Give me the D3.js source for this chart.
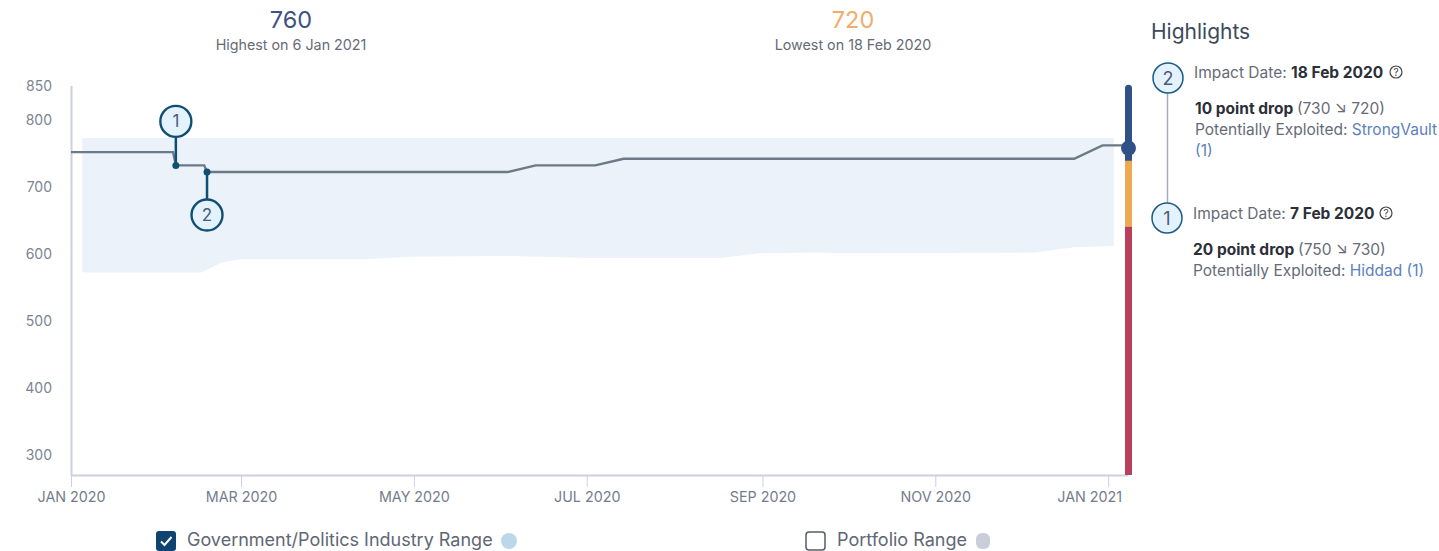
<!DOCTYPE html>
<html>
<head>
<meta charset="utf-8">
<style>
html, body { margin: 0; padding: 0; background: #fff; overflow: hidden; }
svg { display: block; font-family: Inter, "Noto Sans", sans-serif; }
.axis text { font-family: Inter, "Noto Sans", sans-serif; }
.axis--y text { font-size: 14px; fill: #7c8492; }
.axis--x text { font-size: 14.3px; fill: #747c8b; }
.axis line, .axis path { stroke: #cdd0de; }
.grey { fill: #666b77; }
.link { fill: #5a82bd; }
.strong { fill: #2b2f38; font-weight: 700; }
</style>
</head>
<body>
<svg id="chart" width="1439" height="551"></svg>
<script src="https://cdn.jsdelivr.net/npm/d3@7"></script>
<script>

/// Score line
var lineDates = ["2020-01-01","2020-02-06","2020-02-07","2020-02-17","2020-02-18","2020-06-03","2020-06-13","2020-07-04","2020-07-14","2020-12-20","2020-12-30","2021-01-08"];
var lineValues = [750,750,730,730,720,720,730,730,740,740,760,760];

/// Industry range band
var bandDates = ["2020-01-05","2020-02-16","2020-02-23","2020-03-01","2020-04-14","2020-05-02","2020-06-04","2020-06-21","2020-07-03","2020-08-10","2020-08-17","2020-08-31","2020-09-21","2020-09-27","2020-12-06","2020-12-20","2021-01-03"];
var bandLow = [569,569,584,589,589,593,594,592,591,591,591,598,599,598,599,607,609];
var bandHigh = [771,771,771,771,771,771,771,771,771,771,771,771,771,771,771,771,771];

/// Rating bar on the right edge, from top to bottom
var ratingEdges = [851,737,638,265];
var ratingColors = ["#2f5187","#eeaa50","#b8405a"];

var yTicks = [850,800,700,600,500,400,300];
var xTicks = ["2020-01-01","2020-03-01","2020-05-01","2020-07-01","2020-09-01","2020-11-01","2021-01-01"];

var currentDate = "2021-01-08";
var currentValue = 756;

/// Drop markers on the chart
var dropIds = [1,2];
var dropDates = ["2020-02-07","2020-02-18"];
var dropValues = [730,720];
var dropOffsets = [-44,43];

var summaryValues = ["760","720"];
var summaryLabels = ["Highest on 6 Jan 2021","Lowest on 18 Feb 2020"];
var summaryColors = ["#3f5283","#f0ad6c"];

var parse = d3.utcParse("%Y-%m-%d");
var svg = d3.select("#chart");

var x = d3.scaleUtc()
    .domain([parse("2020-01-01"), parse(currentDate)])
    .range([71, 1128]);

var y = d3.scaleLinear()
    .domain([850, 265])
    .range([85.5, 475]);

/// the tick labels sit on a slightly longer scale than the line does
var yLabel = d3.scaleLinear()
    .domain([850, 300])
    .range([86, 455]);

/// Band
var band = bandDates.map(function(d, i) {
    return {date: parse(d), low: bandLow[i], high: bandHigh[i]};
});
var area = d3.area()
    .x(function(d) { return x(d.date); })
    .y0(function(d) { return y(d.low); })
    .y1(function(d) { return y(d.high); });
svg.append("path").datum(band).attr("d", area).attr("fill", "#ebf2f9");

/// Axes
var yAxis = d3.axisLeft(y).tickValues(yTicks).tickSize(0).tickPadding(19);
var gy = svg.append("g")
    .attr("class", "axis axis--y")
    .attr("transform", "translate(71,0)")
    .call(yAxis);
gy.select(".domain").attr("stroke-width", 2);
gy.selectAll(".tick").attr("transform", function(d) { return "translate(0," + yLabel(d) + ")"; });
gy.selectAll("text").attr("dy", "0.36em");

var xAxis = d3.axisBottom(x)
    .tickValues(xTicks.map(parse))
    .tickSize(12)
    .tickPadding(5)
    .tickSizeOuter(0)
    .tickFormat(function(d) { return d3.utcFormat("%b %Y")(d).toUpperCase(); });
var gx = svg.append("g")
    .attr("class", "axis axis--x")
    .attr("transform", "translate(0,475)")
    .call(xAxis);
gx.select(".domain").attr("stroke-width", 2);
/// last label is pushed left so it stays clear of the bar
gx.selectAll(".tick:last-of-type text").attr("dx", -19);

/// Score line
var line = d3.line()
    .x(function(d) { return x(parse(d)); })
    .y(function(d, i) { return y(lineValues[i]); });
svg.append("path")
    .attr("d", line(lineDates))
    .attr("fill", "none")
    .attr("stroke", "#6d7987")
    .attr("stroke-width", 2.4);

/// Rating bar
var barX = x(parse(currentDate)) - 3;
ratingColors.forEach(function(c, i) {
    var top = y(ratingEdges[i]), bottom = y(ratingEdges[i + 1]);
    svg.append("rect")
        .attr("x", barX).attr("width", 7)
        .attr("y", top)
        .attr("height", bottom - top + (i == 0 ? 5 : 0))
        .attr("rx", i == 0 ? 3.5 : 0)
        .attr("fill", c);
});
svg.append("circle")
    .attr("cx", x(parse(currentDate)) + 0.5)
    .attr("cy", y(currentValue))
    .attr("r", 7.5)
    .attr("fill", "#2f5187");

/// Drop markers
dropIds.forEach(function(id, i) {
    var cx = x(parse(dropDates[i])), cy = y(dropValues[i]);
    var g = svg.append("g");
    g.append("line")
        .attr("x1", cx).attr("x2", cx)
        .attr("y1", cy).attr("y2", cy + dropOffsets[i])
        .attr("stroke", "#0f4f76").attr("stroke-width", 2.5);
    g.append("circle")
        .attr("cx", cx).attr("cy", cy).attr("r", 3.5)
        .attr("fill", "#0f4f76");
    g.append("circle")
        .attr("cx", cx).attr("cy", cy + dropOffsets[i]).attr("r", 15.5)
        .attr("fill", "#e3f2fd").attr("stroke", "#0f4f76").attr("stroke-width", 2.4);
    g.append("text")
        .attr("x", cx).attr("y", cy + dropOffsets[i] + 6)
        .attr("text-anchor", "middle")
        .attr("font-size", 17).attr("fill", "#4a5a78")
        .text(id);
});

/// Summary at the top
[291, 853].forEach(function(cx, i) {
    svg.append("text")
        .attr("x", cx).attr("y", 28)
        .attr("text-anchor", "middle")
        .attr("font-size", 23.5).attr("fill", summaryColors[i])
        .text(summaryValues[i]);
    svg.append("text")
        .attr("x", cx).attr("y", 50)
        .attr("text-anchor", "middle")
        .attr("font-size", 14.3).attr("fill", "#666b77")
        .text(summaryLabels[i]);
});

/// Highlights panel
svg.append("text")
    .attr("x", 1151).attr("y", 39)
    .attr("font-size", 21).attr("fill", "#3c4a5a")
    .text("Highlights");

svg.append("line")
    .attr("x1", 1167.5).attr("x2", 1167.5)
    .attr("y1", 92).attr("y2", 204)
    .attr("stroke", "#a6acb6").attr("stroke-width", 1.5);

function badge(cx, cy, id) {
    svg.append("circle")
        .attr("cx", cx).attr("cy", cy).attr("r", 15)
        .attr("fill", "#e3f2fd").attr("stroke", "#1c5a85").attr("stroke-width", 1.5);
    svg.append("text")
        .attr("x", cx).attr("y", cy + 7)
        .attr("text-anchor", "middle")
        .attr("font-size", 18).attr("fill", "#4a5a78")
        .text(id);
}

function rich(px, py, parts) {
    var t = svg.append("text").attr("x", px).attr("y", py).attr("font-size", 15.5);
    parts.forEach(function(p) {
        t.append("tspan").attr("class", p[1]).text(p[0]);
    });
    return t;
}

function help(cx, cy) {
    svg.append("circle")
        .attr("cx", cx).attr("cy", cy).attr("r", 6)
        .attr("fill", "none").attr("stroke", "#444").attr("stroke-width", 1.2);
    svg.append("text")
        .attr("x", cx).attr("y", cy + 3.5)
        .attr("text-anchor", "middle")
        .attr("font-size", 10).attr("fill", "#444")
        .text("?");
}

badge(1168, 78, 2);
rich(1194, 78, [["Impact Date: ", "grey"], ["18 Feb 2020", "strong"]]);
help(1396, 72);
rich(1195, 114, [["10 point drop ", "strong"], ["(730 ↘ 720)", "grey"]]);
rich(1195, 135, [["Potentially Exploited: ", "grey"], ["StrongVault", "link"]]);
rich(1195, 156, [["(1)", "link"]]);

badge(1167, 218, 1);
rich(1193, 219, [["Impact Date: ", "grey"], ["7 Feb 2020", "strong"]]);
help(1386, 213);
rich(1193, 255, [["20 point drop ", "strong"], ["(750 ↘ 730)", "grey"]]);
rich(1193, 276, [["Potentially Exploited: ", "grey"], ["Hiddad (1)", "link"]]);

/// Legend
svg.append("rect")
    .attr("x", 156).attr("y", 531).attr("width", 20).attr("height", 20).attr("rx", 3)
    .attr("fill", "#0f4470");
svg.append("path")
    .attr("d", "M161 541.5l3.5 3.5l7 -8")
    .attr("fill", "none").attr("stroke", "#fff").attr("stroke-width", 2);
svg.append("text")
    .attr("x", 187).attr("y", 546)
    .attr("font-size", 18).attr("fill", "#5f6775")
    .text("Government/Politics Industry Range");
svg.append("circle")
    .attr("cx", 509).attr("cy", 541).attr("r", 8)
    .attr("fill", "#bdd7ea");

svg.append("rect")
    .attr("x", 806).attr("y", 532).attr("width", 19).attr("height", 18).attr("rx", 3)
    .attr("fill", "#fff").attr("stroke", "#555d68").attr("stroke-width", 1.5);
svg.append("text")
    .attr("x", 837).attr("y", 546)
    .attr("font-size", 18).attr("fill", "#5f6775")
    .text("Portfolio Range");
svg.append("rect")
    .attr("x", 976).attr("y", 533).attr("width", 14).attr("height", 16).attr("rx", 6)
    .attr("fill", "#c9ced8");

</script>
</body>
</html>
